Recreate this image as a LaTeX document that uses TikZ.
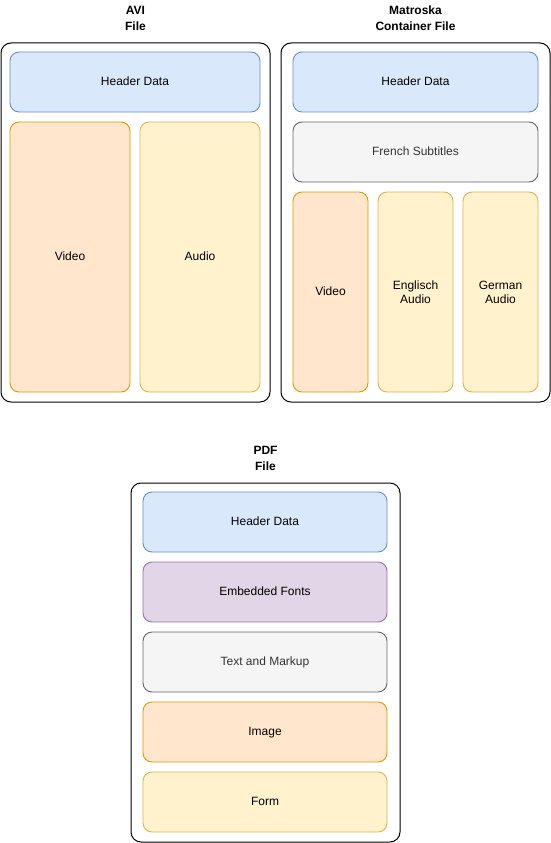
\documentclass[tikz,border=0pt]{standalone}
\usepackage{fontspec}
\setmainfont{Liberation Sans}
\definecolor{bluef}{HTML}{DAE8FC}\definecolor{blued}{HTML}{6C8EBF}
\definecolor{orf}{HTML}{FFE6CC}\definecolor{ord}{HTML}{D79B00}
\definecolor{yef}{HTML}{FFF2CC}\definecolor{yed}{HTML}{D6B656}
\definecolor{grf}{HTML}{F5F5F5}\definecolor{grd}{HTML}{666666}\definecolor{grt}{HTML}{333333}
\definecolor{puf}{HTML}{E1D5E7}\definecolor{pud}{HTML}{9673A6}
\begin{document}
\begin{tikzpicture}[x=1pt,y=-1pt,
  base/.style={rectangle,rounded corners=9pt,line width=0.9pt,inner sep=0pt,outer sep=0pt,
    font=\fontsize{12}{14}\selectfont,align=center},
  one/.style={text height=8.8pt,text depth=2.6pt},
  outer/.style={rectangle,draw=black,rounded corners=10pt,line width=1pt,inner sep=0pt,outer sep=0pt,
    minimum width=269pt,minimum height=359pt},
  title/.style={font=\bfseries\fontsize{12}{16}\selectfont,align=center,inner sep=0pt},
  bluebox/.style={base,fill=bluef,draw=blued},
  orbox/.style={base,fill=orf,draw=ord},
  yebox/.style={base,fill=yef,draw=yed},
  grbox/.style={base,fill=grf,draw=grd,text=grt},
  pubox/.style={base,fill=puf,draw=pud},
  wide/.style={minimum width=250pt,minimum height=60pt},
  mwide/.style={minimum width=245pt,minimum height=60pt},
  pwide/.style={minimum width=244pt,minimum height=60pt},
  tall/.style={minimum width=120pt,minimum height=270pt},
  mtall/.style={minimum width=75pt,minimum height=200pt}]
\useasboundingbox (0,0) rectangle (551,843);
% AVI
\node[title] (avit) at (135.5,18) {AVI\\File};
\node[outer] (avi) at (135.5,222.5) {};
\node[bluebox,wide,one] (avih) at (135,82) {Header Data};
\node[orbox,tall,one] (aviv) at (70,257) {Video};
\node[yebox,tall,one] (avia) at (200,257) {Audio};
% Matroska
\node[title] (mkvt) at (415.5,18) {Matroska\\Container File};
\node[outer] (mkv) at (415.5,222.5) {};
\node[bluebox,mwide,one] (mkvh) at (415.5,82) {Header Data};
\node[grbox,mwide,one] (mkvs) at (415.5,152) {French Subtitles};
\node[orbox,mtall,one] (mkvv) at (330.5,292) {Video};
\node[yebox,mtall] (mkve) at (415.5,292) {Englisch\\Audio};
\node[yebox,mtall] (mkvg) at (500.5,292) {German\\Audio};
% PDF
\node[title] (pdft) at (265.5,458) {PDF\\File};
\node[outer] (pdf) at (265.5,662.5) {};
\node[bluebox,pwide,one] (pdfh) at (265,522) {Header Data};
\node[pubox,pwide,one] (pdff) at (265,592) {Embedded Fonts};
\node[grbox,pwide,one] (pdfx) at (265,662) {Text and Markup};
\node[orbox,pwide,one] (pdfi) at (265,732) {Image};
\node[yebox,pwide,one] (pdfo) at (265,802) {Form};
\end{tikzpicture}
\end{document}
